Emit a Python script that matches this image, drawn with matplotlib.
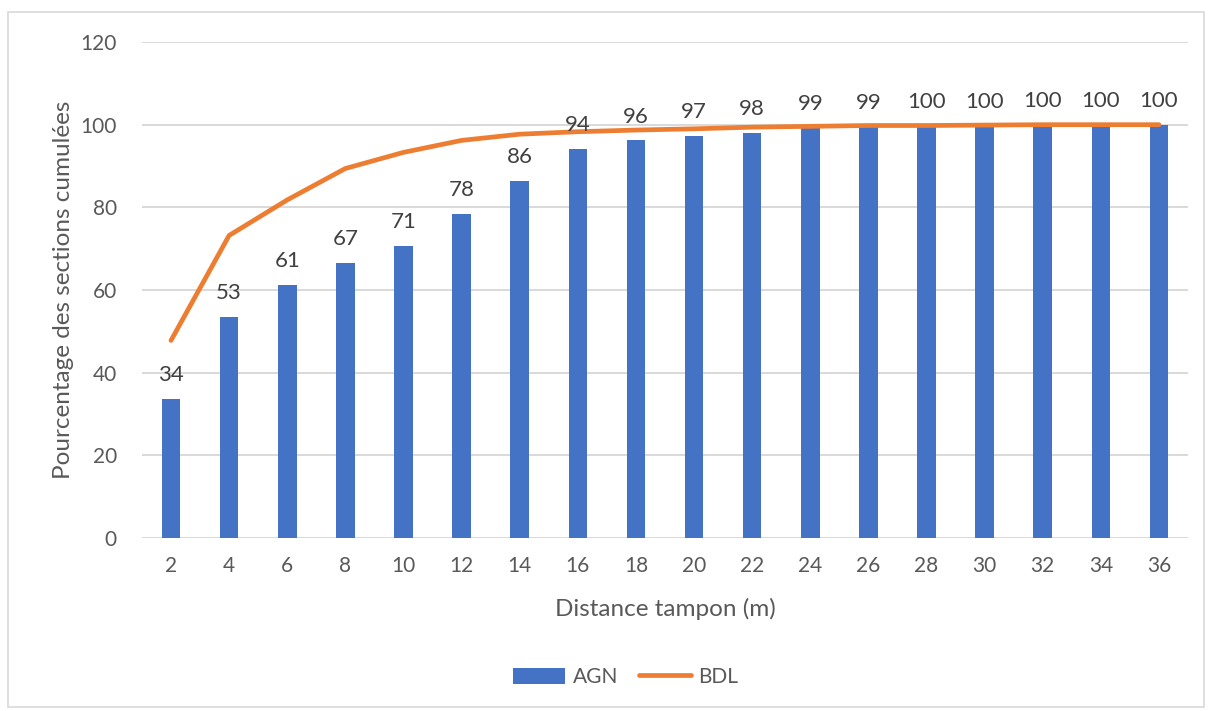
import matplotlib.pyplot as plt
from matplotlib.patches import Rectangle
from matplotlib.lines import Line2D
from matplotlib.patches import Patch

# distances (m) and cumulative percentages
distances = [2, 4, 6, 8, 10, 12, 14, 16, 18, 20, 22, 24, 26, 28, 30, 32, 34, 36]
agn = [33.6, 53.4, 61.3, 66.6, 70.6, 78.4, 86.4, 94.2, 96.2, 97.3,
       98.1, 99.2, 99.4, 99.7, 99.8, 99.9, 100.0, 100.0]
bdl = [47.8, 73.2, 81.8, 89.4, 93.3, 96.2, 97.7, 98.3, 98.7, 99.0,
       99.4, 99.6, 99.8, 99.8, 99.9, 100.0, 100.0, 100.0]

plt.rcParams['font.family'] = ['Lato', 'DejaVu Sans']

fig = plt.figure(figsize=(12.08, 7.11), dpi=100)
ax = fig.add_axes([0.1175, 0.2433, 0.866, 0.6976])

# outer chart border
fig.patches.append(Rectangle((8 / 1208, 4 / 711), 1196 / 1208, 695 / 711,
                             transform=fig.transFigure, fill=False,
                             edgecolor='#d9d9d9', linewidth=1.2))

pos = list(range(len(distances)))
ax.bar(pos, agn, width=0.32, color='#4472C4', zorder=2)
ax.plot(pos, bdl, color='#ED7D31', linewidth=3.4, solid_capstyle='round',
        solid_joinstyle='round', zorder=3)

for p, v in zip(pos, agn):
    ax.annotate('%.0f' % v, (p, v), xytext=(0, 10), textcoords='offset points',
                ha='center', va='bottom', fontsize=16, color='#404040')

ax.set_xlim(-0.5, len(distances) - 0.5)
ax.set_ylim(0, 120)
ax.set_yticks(range(0, 121, 20))
ax.set_xticks(pos)
ax.set_xticklabels([str(d) for d in distances])
ax.grid(axis='y', color='#d9d9d9', linewidth=1.4, zorder=0)
ax.set_axisbelow(True)
for s in ['top', 'right', 'left', 'bottom']:
    ax.spines[s].set_visible(False)
ax.tick_params(axis='both', length=0, labelsize=15, labelcolor='#595959')
ax.tick_params(axis='y', pad=18)
ax.tick_params(axis='x', pad=13)

ax.set_xlabel('Distance tampon (m)', fontsize=17.5, color='#595959', labelpad=16)
ax.set_ylabel('Pourcentage des sections cumulées', fontsize=17.5, color='#595959', labelpad=5)

handles = [Patch(facecolor='#4472C4'),
           Line2D([0], [0], color='#ED7D31', linewidth=3.4, solid_capstyle='round')]
fig.legend(handles, ['AGN', 'BDL'], loc='center', bbox_to_anchor=(0.518, 0.048),
           ncol=2, frameon=False, fontsize=15, labelcolor='#595959',
           handlelength=2.5, handleheight=0.8, columnspacing=1.0, handletextpad=0.35)

fig.savefig('out.png', dpi=100)
